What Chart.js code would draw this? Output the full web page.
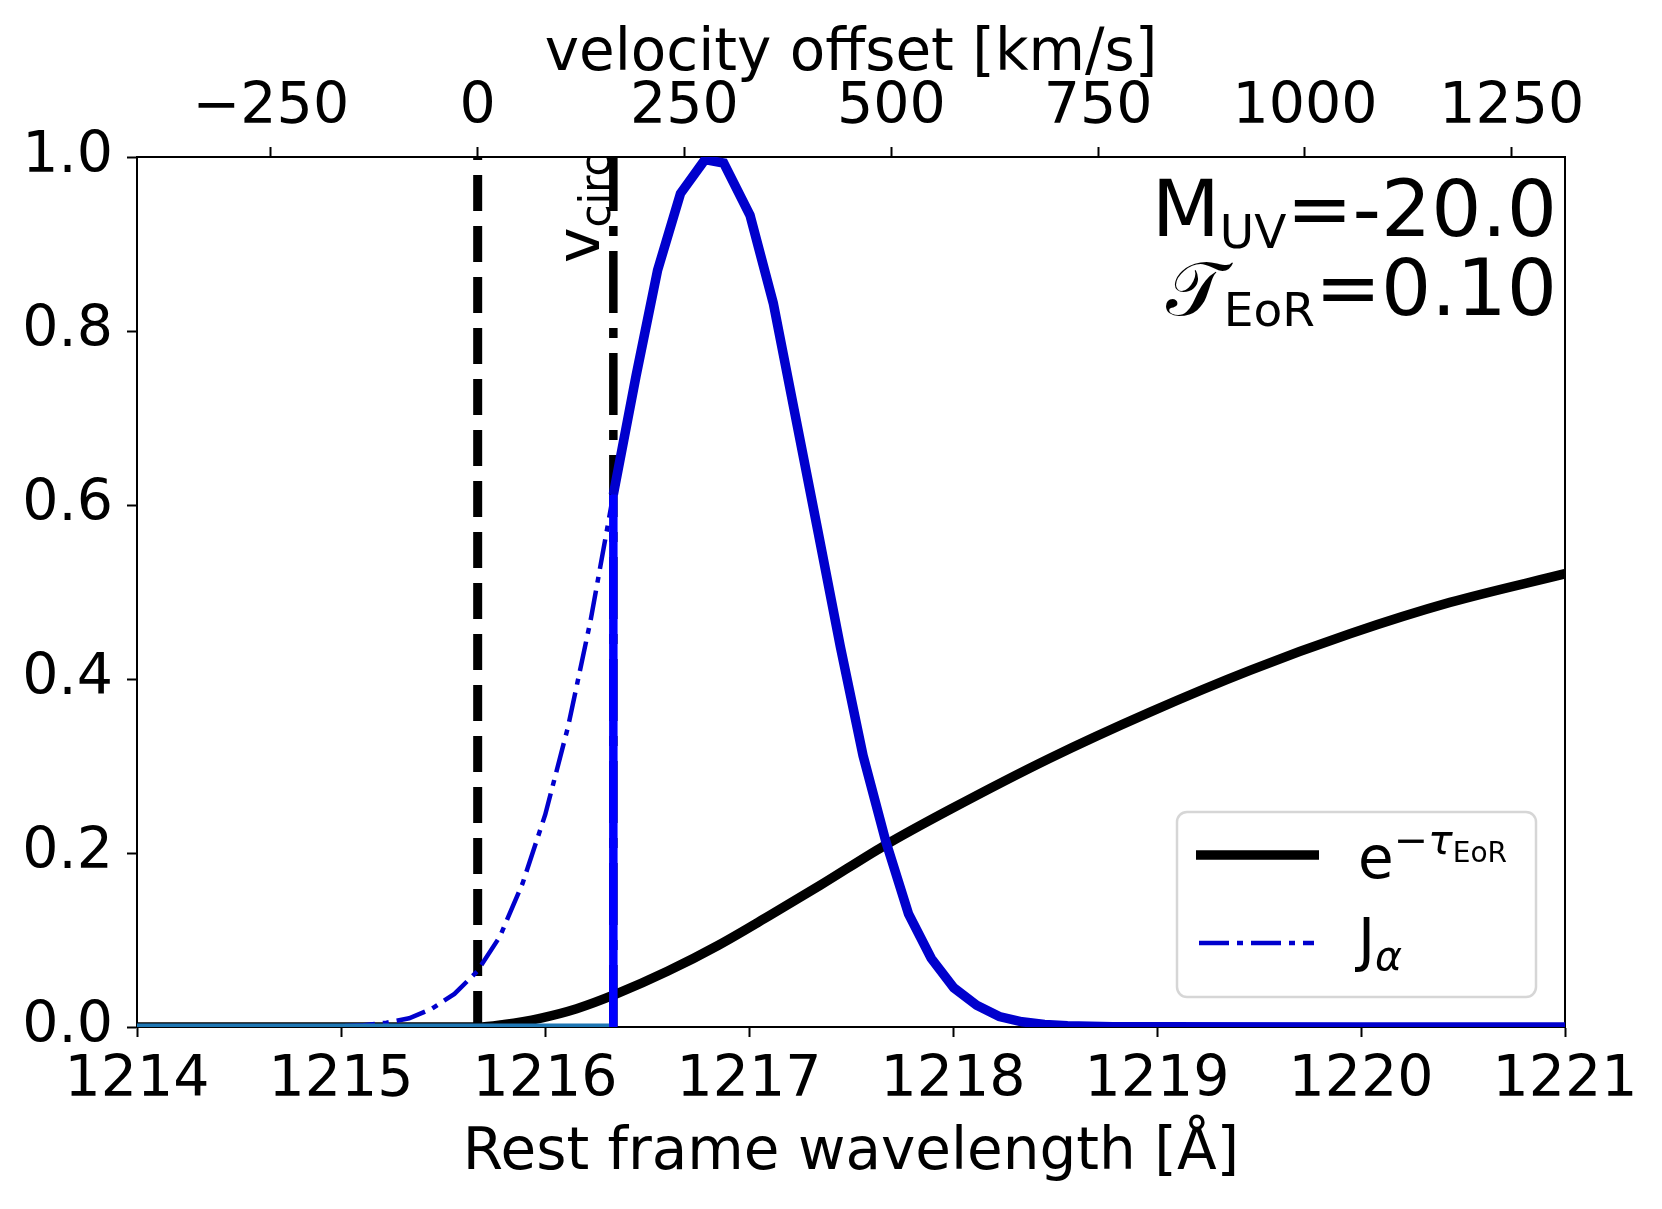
<!DOCTYPE html>
<html>
<head>
<meta charset="utf-8">
<script src="https://cdn.jsdelivr.net/npm/chart.js@4.4.1/dist/chart.umd.min.js"></script>
<style>
  html, body { margin: 0; padding: 0; background: #ffffff; }
  canvas { display: block; }
</style>
</head>
<body>
<canvas id="c" width="1662" height="1209" style="width:1662px;height:1209px"></canvas>
<script>
// ---------------- data ----------------
const SPEED_OF_LIGHT = 299792.458;          // km/s
const LAMBDA_ALPHA = 1215.67;               // Å, v = 0
const LAMBDA_CIRC = 1216.335;               // Å, v_circ marker

const wavelengthTicks = [1214, 1215, 1216, 1217, 1218, 1219, 1220, 1221];
const velocityTicks = [-250, 0, 250, 500, 750, 1000, 1250];
const fluxTicks = [0, 0.2, 0.4, 0.6, 0.8, 1.0];

// intrinsic Lyman-alpha profile J_alpha
const jAlphaWavelength = [
  1214.0, 1215.0, 1215.111, 1215.223, 1215.334, 1215.445, 1215.556, 1215.668,
  1215.779, 1215.890, 1216.001, 1216.113, 1216.224, 1216.335, 1216.446, 1216.552,
  1216.664, 1216.784, 1216.876, 1217.005, 1217.119, 1217.225, 1217.337, 1217.448,
  1217.559, 1217.671, 1217.782, 1217.893, 1218.004, 1218.116, 1218.227, 1218.338,
  1218.449, 1218.561, 1218.672, 1218.783, 1219.0, 1220.0, 1221.0
];
const jAlphaValue = [
  0.0, 0.001, 0.002, 0.005, 0.010, 0.021, 0.038, 0.064,
  0.104, 0.165, 0.244, 0.345, 0.468, 0.612, 0.748, 0.870,
  0.958, 0.997, 0.993, 0.933, 0.832, 0.705, 0.571, 0.437,
  0.312, 0.213, 0.130, 0.079, 0.045, 0.025, 0.012, 0.006,
  0.003, 0.0015, 0.0008, 0.0004, 0.0002, 0.0001, 0.0
];

// IGM transmission e^{-tau_EoR}
const tauWavelength = [
  1214.0, 1215.67, 1215.8, 1215.975, 1216.155, 1216.35, 1216.6, 1216.85,
  1217.1, 1217.35, 1217.66, 1217.985, 1218.475, 1218.966, 1219.456,
  1219.946, 1220.436, 1221.0
];
const expTauValue = [
  0.0, 0.0, 0.003, 0.010, 0.021, 0.038, 0.064, 0.094,
  0.128, 0.163, 0.208, 0.250, 0.309, 0.362, 0.410,
  0.452, 0.488, 0.521
];

const muvText = '=-20.0';
const tauText = '=0.10';

// ---------------- helpers ----------------
const FAMILY = '"DejaVu Sans", "Liberation Sans", sans-serif';
Chart.defaults.font.family = FAMILY;
Chart.defaults.color = '#000';

const toXY = (xs, ys) => xs.map((x, i) => ({ x: x, y: ys[i] }));
const lambdaToVel = l => (l - LAMBDA_ALPHA) / LAMBDA_ALPHA * SPEED_OF_LIGHT;

const cutIndex = jAlphaWavelength.findIndex(l => l >= LAMBDA_CIRC);
const cutTop = jAlphaValue[cutIndex];
const transmitted = toXY(jAlphaWavelength, jAlphaValue).filter(p => p.x >= LAMBDA_CIRC);

function drawRuns(ctx, runs, x, y, align) {
  let total = 0;
  runs.forEach(r => {
    r.font = (r.italic ? 'italic ' : '') + r.s + 'px ' + (r.family || FAMILY);
    ctx.font = r.font;
    r.w = ctx.measureText(r.t).width;
    total += r.w;
  });
  let cx = align === 'right' ? x - total : x;
  runs.forEach(r => {
    ctx.font = r.font;
    ctx.textAlign = 'left';
    ctx.fillText(r.t, cx, y + (r.dy || 0));
    cx += r.w;
  });
}

const overlay = {
  id: 'overlay',
  afterDraw(chart) {
    const ctx = chart.ctx;
    const a = chart.chartArea;
    const xs = chart.scales.x;
    ctx.save();
    ctx.fillStyle = '#000';
    ctx.textBaseline = 'alphabetic';

    // v_circ label (rotated)
    const xc = xs.getPixelForValue(LAMBDA_CIRC);
    ctx.save();
    ctx.translate(xc - 14, a.top + 106);
    ctx.rotate(-Math.PI / 2);
    drawRuns(ctx, [{ t: 'v', s: 60 }, { t: 'circ', s: 42, dy: 11 }], 0, 0, 'left');
    ctx.restore();

    // parameter annotations
    drawRuns(ctx, [{ t: 'M', s: 79 }, { t: 'UV', s: 47, dy: 12 }, { t: muvText, s: 79 }],
      a.right - 8, a.top + 79, 'right');
    drawRuns(ctx, [{ t: '\u{1D4AF}', s: 76 }, { t: 'EoR', s: 47, dy: 11 }, { t: tauText, s: 79 }],
      a.right - 8, a.top + 158, 'right');

    // legend
    const bx = a.right - 388, by = a.bottom - 215, bw = 359, bh = 185;
    ctx.beginPath();
    ctx.roundRect(bx, by, bw, bh, 10);
    ctx.fillStyle = 'rgba(255,255,255,0.8)';
    ctx.fill();
    ctx.lineWidth = 2.5;
    ctx.strokeStyle = '#d6d6d6';
    ctx.stroke();

    const dsTau = chart.data.datasets.find(d => d.label === 'expTau');
    const dsJ = chart.data.datasets.find(d => d.label === 'jAlpha');

    ctx.beginPath();
    ctx.setLineDash([]);
    ctx.lineCap = 'butt';
    ctx.strokeStyle = dsTau.borderColor;
    ctx.lineWidth = dsTau.borderWidth;
    ctx.moveTo(bx + 19, by + 43);
    ctx.lineTo(bx + 142, by + 43);
    ctx.stroke();

    ctx.beginPath();
    ctx.setLineDash(dsJ.borderDash);
    ctx.strokeStyle = dsJ.borderColor;
    ctx.lineWidth = dsJ.borderWidth;
    ctx.moveTo(bx + 22, by + 131);
    ctx.lineTo(bx + 137, by + 131);
    ctx.stroke();
    ctx.setLineDash([]);

    ctx.fillStyle = '#000';
    drawRuns(ctx, [
      { t: 'e', s: 58 },
      { t: '\u2212', s: 41, dy: -24 },
      { t: '\u03C4', s: 41, dy: -24, italic: true },
      { t: 'EoR', s: 28, dy: -16 }
    ], bx + 181, by + 66, 'left');
    drawRuns(ctx, [
      { t: 'J', s: 58 },
      { t: '\u03B1', s: 41, dy: 10, italic: true }
    ], bx + 181, by + 148, 'left');

    ctx.restore();
  }
};

const axisFont = { family: FAMILY, size: 57, lineHeight: 1 };

new Chart(document.getElementById('c'), {
  type: 'line',
  data: {
    datasets: [
      { label: 'cut', data: [{ x: LAMBDA_CIRC, y: 0 }, { x: LAMBDA_CIRC, y: cutTop }],
        borderColor: '#0000ff', borderWidth: 8.5, order: 0 },
      { label: 'zero', data: [{ x: wavelengthTicks[0], y: 0 }, { x: LAMBDA_CIRC, y: 0 }],
        borderColor: '#1f77b4', borderWidth: 7, order: 1 },
      { label: 'transmitted', data: transmitted,
        borderColor: '#0000cd', borderWidth: 9.5, order: 2, borderJoinStyle: 'miter' },
      { label: 'jAlpha', data: toXY(jAlphaWavelength, jAlphaValue),
        borderColor: '#0000cd', borderWidth: 4.5, borderDash: [30, 8, 6, 8], order: 3 },
      { label: 'expTau', data: toXY(tauWavelength, expTauValue),
        borderColor: '#000000', borderWidth: 9.5, cubicInterpolationMode: 'monotone', order: 4 },
      { label: 'lambdaAlpha', data: [{ x: LAMBDA_ALPHA, y: 0 }, { x: LAMBDA_ALPHA, y: 1 }],
        borderColor: '#000000', borderWidth: 9, borderDash: [36, 15], order: 5 },
      { label: 'vcirc', data: [{ x: LAMBDA_CIRC, y: 0 }, { x: LAMBDA_CIRC, y: 1 }],
        borderColor: '#000000', borderWidth: 8.5, borderDash: [62, 15, 10, 15], order: 6 }
    ].map(d => Object.assign({ xAxisID: 'x', yAxisID: 'y', pointRadius: 0, fill: false,
      tension: 0, clip: 0, borderCapStyle: 'butt' }, d))
  },
  options: {
    responsive: false,
    devicePixelRatio: 1,
    animation: false,
    events: [],
    layout: { padding: { left: 0, right: 97, top: 0, bottom: 0 } },
    plugins: { legend: { display: false }, tooltip: { enabled: false } },
    scales: {
      x: {
        type: 'linear', position: 'bottom', z: 1,
        min: wavelengthTicks[0], max: wavelengthTicks[wavelengthTicks.length - 1],
        afterBuildTicks: s => { s.ticks = wavelengthTicks.map(v => ({ value: v })); },
        afterFit: s => { s.height = 182; },
        ticks: { font: axisFont, color: '#000', padding: 16, maxRotation: 0, autoSkip: false,
          callback: v => String(v) },
        grid: { drawOnChartArea: false, drawTicks: true, tickLength: 10, tickWidth: 2, tickColor: '#000' },
        border: { display: true, color: '#000', width: 2 },
        title: { display: true, text: 'Rest frame wavelength [Å]', color: '#000',
          font: { family: FAMILY, size: 58, lineHeight: 1 }, padding: { top: 0, bottom: 26 } }
      },
      x2: {
        type: 'linear', position: 'top', z: 1,
        min: lambdaToVel(wavelengthTicks[0]), max: lambdaToVel(wavelengthTicks[wavelengthTicks.length - 1]),
        afterBuildTicks: s => { s.ticks = velocityTicks.map(v => ({ value: v })); },
        afterFit: s => { s.height = 157; },
        ticks: { font: axisFont, color: '#000', padding: 10, maxRotation: 0, autoSkip: false,
          callback: v => v < 0 ? '\u2212' + Math.abs(v) : String(v) },
        grid: { drawOnChartArea: false, drawTicks: true, tickLength: 10, tickWidth: 2, tickColor: '#000' },
        border: { display: true, color: '#000', width: 2 },
        title: { display: true, text: 'velocity offset [km/s]', color: '#000',
          font: { family: FAMILY, size: 58, lineHeight: 1 }, padding: { top: 26, bottom: 0 } }
      },
      y: {
        type: 'linear', position: 'left', z: 1,
        min: fluxTicks[0], max: fluxTicks[fluxTicks.length - 1],
        afterBuildTicks: s => { s.ticks = fluxTicks.map(v => ({ value: v })); },
        afterFit: s => { s.width = 137; },
        ticks: { font: axisFont, color: '#000', padding: 14, autoSkip: false,
          callback: v => v.toFixed(1) },
        grid: { drawOnChartArea: false, drawTicks: true, tickLength: 10, tickWidth: 2, tickColor: '#000' },
        border: { display: true, color: '#000', width: 2 }
      },
      yRight: {
        type: 'linear', position: 'right', z: 1, min: 0, max: 1,
        afterBuildTicks: s => { s.ticks = []; },
        afterFit: s => { s.width = 0; },
        ticks: { display: false },
        grid: { drawOnChartArea: false, drawTicks: false },
        border: { display: true, color: '#000', width: 2 }
      }
    }
  },
  plugins: [overlay]
});
</script>
</body>
</html>
